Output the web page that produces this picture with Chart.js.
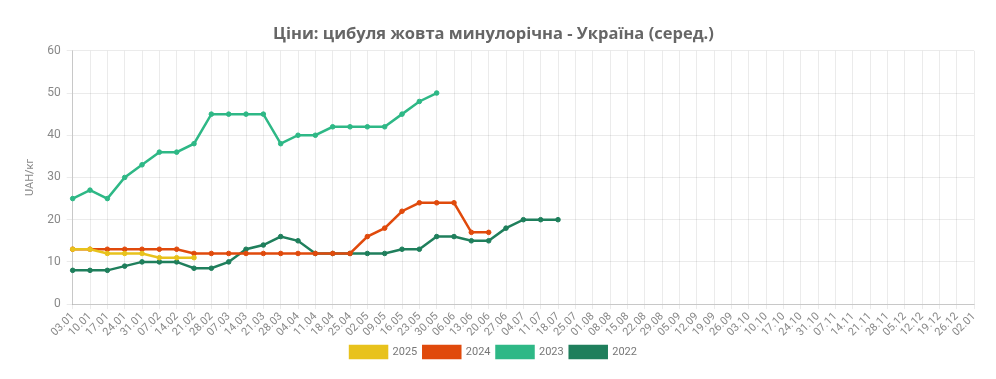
<!DOCTYPE html>
<html><head><meta charset="utf-8">
<script src="https://cdn.jsdelivr.net/npm/chart.js@4"></script>
<style>html,body{margin:0;padding:0;background:#fff}#wrap{width:996px;height:379px}</style>
</head><body><div id="wrap"><canvas id="c"></canvas></div>
<script>
const labels = ["03.01","10.01","17.01","24.01","31.01","07.02","14.02","21.02","28.02","07.03","14.03","21.03","28.03","04.04","11.04","18.04","25.04","02.05","09.05","16.05","23.05","30.05","06.06","13.06","20.06","27.06","04.07","11.07","18.07","25.07","01.08","08.08","15.08","22.08","29.08","05.09","12.09","19.09","26.09","03.10","10.10","17.10","24.10","31.10","07.11","14.11","21.11","28.11","05.12","12.12","19.12","26.12","02.01"];
const y2025 = [13,13,12,12,12,11,11,11];
const y2024 = [13,13,13,13,13,13,13,12,12,12,12,12,12,12,12,12,12,16,18,22,24,24,24,17,17];
const y2023 = [25,27,25,30,33,36,36,38,45,45,45,45,38,40,40,42,42,42,42,45,48,50];
const y2022 = [8,8,8,9,10,10,10,8.5,8.5,10,13,14,16,15,12,12,12,12,12,13,13,16,16,15,15,18,20,20,20];
const seriesNames = ["2025","2024","2023","2022"];
const colors = ["#E8C21C","#E04A0C","#2EB886","#1F7F5C"];
const series = [y2025,y2024,y2023,y2022];

const datasets = series.map((d,i)=>({
  label: seriesNames[i], data: d,
  borderColor: colors[i], backgroundColor: colors[i],
  pointBackgroundColor: colors[i], pointBorderColor: colors[i],
  borderWidth: 2.5, pointRadius: 2.3, pointBorderWidth: 1, pointHoverRadius: 4, tension: 0, fill:false
}));
new Chart(document.getElementById('c'), {
  type:'line',
  data:{labels, datasets},
  options:{
    responsive:true, maintainAspectRatio:false, animation:false,
    layout:{padding:{left:13,right:22,top:14,bottom:11}},
    plugins:{
      title:{display:true, text:"Ціни: цибуля жовта минулорічна - Україна (серед.)",
        color:"#666", font:{family:"'Open Sans', sans-serif", size:16.5, weight:'bold'}, padding:{top:10,bottom:7}},
      legend:{position:'bottom', labels:{boxWidth:37, boxHeight:12, color:"#777", font:{family:"Roboto", size:11}, padding:6}},
      tooltip:{enabled:false}
    },
    scales:{
      x:{ticks:{color:"#888", font:{family:"Roboto", size:11}, minRotation:45, maxRotation:45, autoSkip:false, padding:1},
         grid:{color:"rgba(0,0,0,0.08)", tickLength:5}, border:{color:"rgba(0,0,0,0.15)"}},
      y:{min:0,max:60, ticks:{stepSize:10, color:"#888", font:{family:"Roboto", size:12}, padding:6},
         title:{display:true, text:"UAH/кг", color:"#888", font:{family:"Roboto", size:11}, padding:{top:11,bottom:4}},
         grid:{color:"rgba(0,0,0,0.08)", tickLength:6}, border:{color:"rgba(0,0,0,0.15)"}}
    }
  }
});
</script></body></html>
